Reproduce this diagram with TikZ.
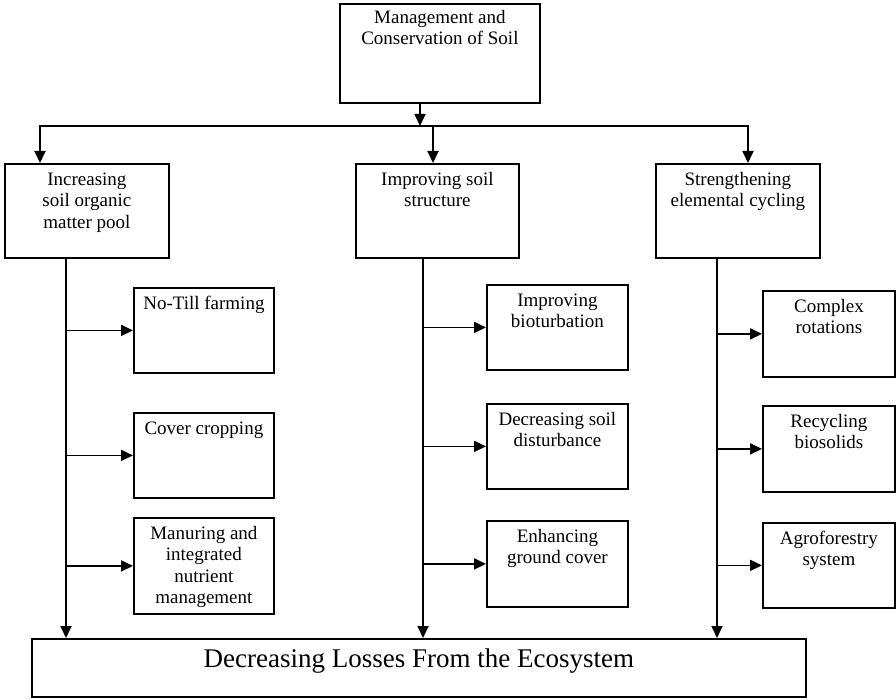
\documentclass[tikz,border=0pt]{standalone}
\usepackage{fontspec}
\setmainfont{Liberation Serif}
\usetikzlibrary{arrows.meta}
\begin{document}
\begin{tikzpicture}[x=1pt,y=-1pt,
  box/.style={draw, line width=1.8pt, inner sep=0pt, anchor=north west},
  lbl/.style={anchor=north, inner sep=0pt, align=center, font=\fontsize{19}{21.5}\selectfont, yshift=-8pt},
  biglbl/.style={anchor=north, inner sep=0pt, align=center, font=\fontsize{27}{30}\selectfont, yshift=-9pt},
  tip/.tip={Triangle[length=12pt,width=11pt]},
  arr/.style={line width=1.8pt, -tip},
  ln/.style={line width=1.8pt}]
\useasboundingbox[fill=white] (0,0) rectangle (896,700);

% top box
\node[box, minimum width=200pt, minimum height=99pt,
  label={[lbl, yshift=1pt]north:\rule{0pt}{13pt}Management and\\Conservation of Soil}] (top) at (339,3) {};

% level-1 boxes
\node[box, minimum width=164pt, minimum height=94pt,
  label={[lbl]north:\rule{0pt}{14pt}Increasing\\soil organic\\matter pool}] (lt) at (4,163) {};
\node[box, minimum width=163pt, minimum height=94pt,
  label={[lbl]north:\rule{0pt}{14pt}Improving soil\\structure}] (mt) at (355,163) {};
\node[box, minimum width=164pt, minimum height=94pt,
  label={[lbl]north:\rule{0pt}{14pt}Strengthening\\elemental cycling}] (rt) at (655,163) {};

% left children
\node[box, minimum width=140pt, minimum height=85pt,
  label={[lbl]north:\rule{0pt}{14pt}No-Till farming}] (l1) at (133,287) {};
\node[box, minimum width=140pt, minimum height=85pt,
  label={[lbl]north:\rule{0pt}{14pt}Cover cropping}] (l2) at (133,412) {};
\node[box, minimum width=140pt, minimum height=96pt,
  label={[lbl]north:\rule{0pt}{14pt}Manuring and\\integrated\\nutrient\\management}] (l3) at (133,517) {};

% middle children
\node[box, minimum width=141pt, minimum height=85pt,
  label={[lbl]north:\rule{0pt}{14pt}Improving\\bioturbation}] (m1) at (486,284) {};
\node[box, minimum width=141pt, minimum height=85pt,
  label={[lbl]north:\rule{0pt}{14pt}Decreasing soil\\disturbance}] (m2) at (486,403) {};
\node[box, minimum width=141pt, minimum height=86pt,
  label={[lbl]north:\rule{0pt}{14pt}Enhancing\\ground cover}] (m3) at (486,520) {};

% right children
\node[box, minimum width=132pt, minimum height=86pt,
  label={[lbl]north:\rule{0pt}{14pt}Complex\\rotations}] (r1) at (762,290) {};
\node[box, minimum width=132pt, minimum height=86pt,
  label={[lbl]north:\rule{0pt}{14pt}Recycling\\biosolids}] (r2) at (762,405) {};
\node[box, minimum width=132pt, minimum height=85pt,
  label={[lbl]north:\rule{0pt}{14pt}Agroforestry\\system}] (r3) at (762,522) {};

% bottom box
\node[box, minimum width=774pt, minimum height=58pt,
  label={[biglbl]north:\rule{0pt}{20pt}Decreasing Losses From the Ecosystem}] (bot) at (31,638) {};

% bus coordinates
\coordinate (bus) at (420,126);
\coordinate (busL) at (40,126);
\coordinate (busM) at (433,126);
\coordinate (busR) at (748,126);
\coordinate (sL) at (66,0);
\coordinate (sM) at (423,0);
\coordinate (sR) at (717,0);

\draw[arr] (top.south -| bus) -- (bus);
\draw[ln, tip-tip] (lt.north -| busL) -- (busL) -- (busR) -- (rt.north -| busR);
\draw[arr] (busM) -- (mt.north -| busM);

% stems
\draw[arr] (lt.south -| sL) -- (bot.north -| sL);
\draw[arr] (mt.south -| sM) -- (bot.north -| sM);
\draw[arr] (rt.south -| sR) -- (bot.north -| sR);

% branches
\foreach \n in {l1,l2,l3} \draw[arr] (\n.west -| sL) -- (\n.west);
\foreach \n in {m1,m2,m3} \draw[arr] (\n.west -| sM) -- (\n.west);
\foreach \n in {r1,r2,r3} \draw[arr] (\n.west -| sR) -- (\n.west);
\end{tikzpicture}
\end{document}
